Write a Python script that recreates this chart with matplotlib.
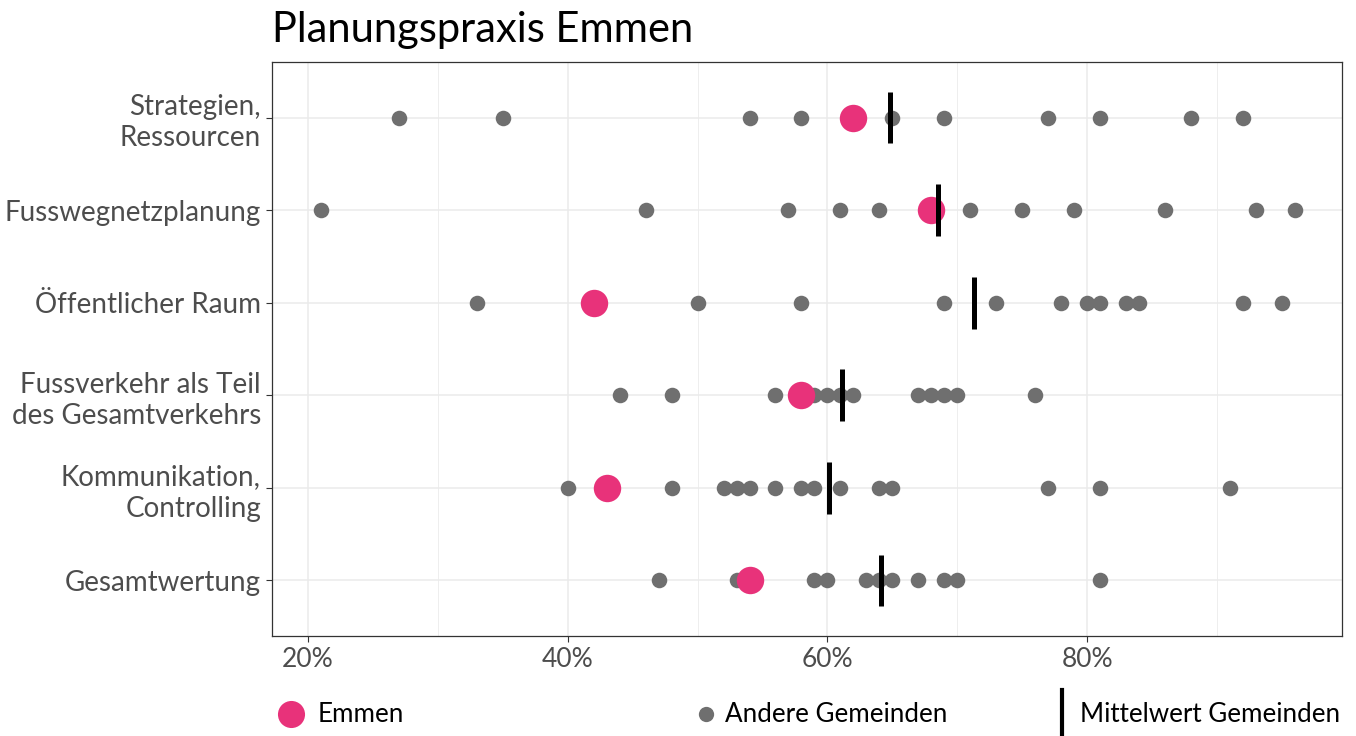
import matplotlib
matplotlib.use("Agg")
import matplotlib.pyplot as plt
from matplotlib.lines import Line2D
import numpy as np

plt.rcParams['font.family'] = ['Lato', 'DejaVu Sans']

categories = ["Strategien,\nRessourcen", "Fusswegnetzplanung", "Öffentlicher Raum",
              "Fussverkehr als Teil\ndes Gesamtverkehrs", "Kommunikation,\nControlling",
              "Gesamtwertung"]
emmen = [62, 68, 42, 58, 43, 54]
mittelwert = [64.8, 68.5, 71.3, 61.15, 60.1, 64.1]
andere = [
    [27, 35, 54, 58, 65, 69, 77, 81, 88, 92],
    [21, 46, 57, 61, 64, 71, 75, 79, 86, 93, 96],
    [33, 50, 58, 69, 73, 78, 80, 81, 83, 84, 92, 95],
    [44, 48, 56, 59, 60, 61, 62, 67, 68, 69, 70, 76],
    [40, 48, 52, 53, 54, 56, 58, 59, 61, 64, 65, 77, 81, 91],
    [47, 53, 59, 60, 63, 64, 65, 67, 69, 70, 81],
]
x_ticks = [20, 40, 60, 80]
x_ticklabels = ["20%", "40%", "60%", "80%"]

PINK = "#e8327a"
GRAY = "#6f6f6f"
TXT = "#4d4d4d"

W, H = 1356, 736
fig = plt.figure(figsize=(W / 100, H / 100), dpi=100)
ax = fig.add_axes([272 / W, 1 - 636 / H, (1342 - 272) / W, (636 - 62) / H])

n = len(categories)
ypos = np.arange(n)[::-1]

for yi, vals in zip(ypos, andere):
    ax.scatter(vals, [yi] * len(vals), s=125, color=GRAY, linewidths=0, zorder=3)
ax.scatter(emmen, ypos, s=390, color=PINK, linewidths=0, zorder=4)
ax.vlines(mittelwert, ypos - 0.28, ypos + 0.28, color="black", linewidth=3.6, zorder=5)

ax.set_xlim(17.25, 99.6)
ax.set_ylim(-0.6, n - 1 + 0.6)
ax.set_yticks(ypos)
ax.set_yticklabels(categories, fontsize=20, color=TXT, linespacing=1.25)
ax.set_xticks(x_ticks)
ax.set_xticklabels(x_ticklabels, fontsize=19, color=TXT)
ax.set_xticks([30, 50, 70, 90], minor=True)
ax.tick_params(axis='both', which='major', length=4, width=0.8, color="#333333", pad=4)
ax.tick_params(axis='x', which='minor', length=0)
ax.grid(True, which='major', color="#ebebeb", linewidth=1.1, zorder=0)
ax.grid(True, which='minor', axis='x', color="#ebebeb", linewidth=0.6, zorder=0)
ax.set_axisbelow(True)
for sp in ax.spines.values():
    sp.set_color("#333333")
    sp.set_linewidth(0.9)

fig.text(272 / W, 1 - 30 / H, "Planungspraxis Emmen", fontsize=30, color="black",
         ha="left", va="center")

# legend
ly = 1 - 714 / H
fig.add_artist(Line2D([291 / W], [ly], marker="o", markersize=19.5, color=PINK,
                      markeredgewidth=0, transform=fig.transFigure))
fig.text(318 / W, ly, "Emmen", fontsize=18.7, color="black", ha="left", va="center")
fig.add_artist(Line2D([706 / W], [ly], marker="o", markersize=11, color=GRAY,
                      markeredgewidth=0, transform=fig.transFigure))
fig.text(725 / W, ly, "Andere Gemeinden", fontsize=18.7, color="black", ha="left", va="center")
fig.add_artist(Line2D([1062 / W, 1062 / W], [1 - 690 / H, 0], color="black",
                      linewidth=3.0, transform=fig.transFigure))
fig.text(1080 / W, ly, "Mittelwert Gemeinden", fontsize=18.7, color="black", ha="left", va="center")

fig.savefig("out.png", dpi=100, facecolor="white")
